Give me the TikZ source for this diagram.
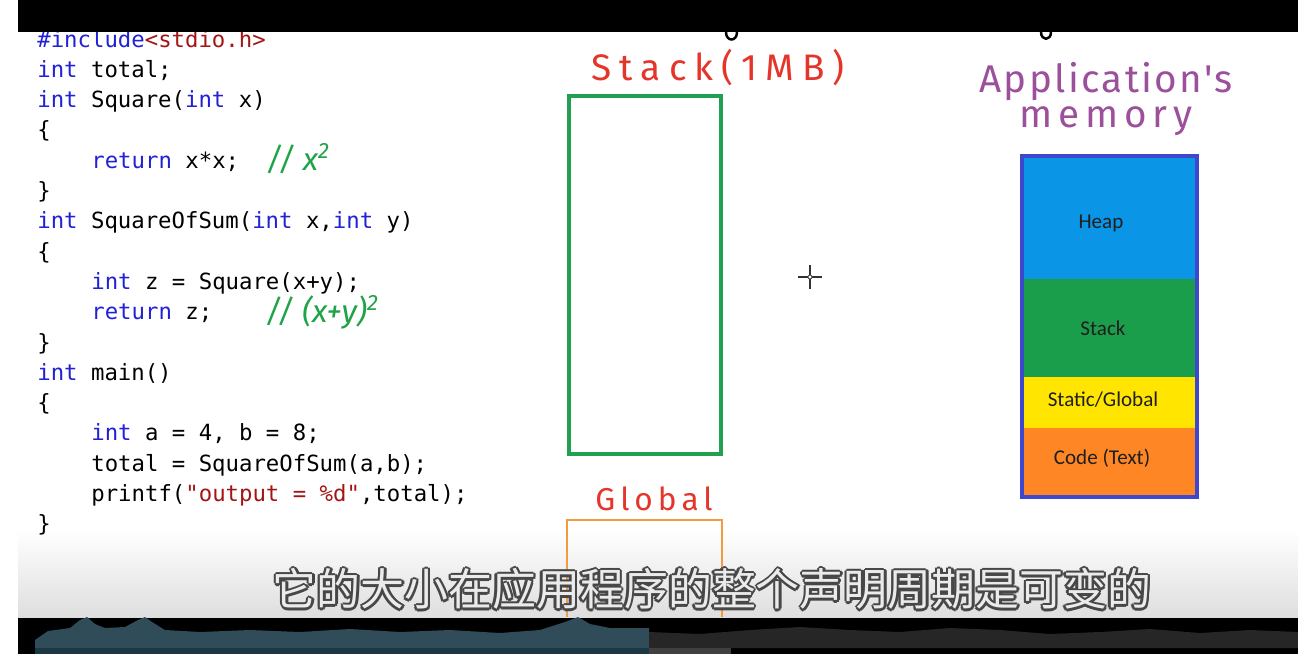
\documentclass[tikz,border=0pt]{standalone}
\usepackage{fontspec}
\newfontfamily\codefont{DejaVu Sans Mono}
\newfontfamily\handfont{Fira Sans}
\newfontfamily\labelfont{Carlito}
\newfontfamily\cjk{Noto Sans CJK SC}

\definecolor{kwblue}{HTML}{2121D6}
\definecolor{strred}{HTML}{A31515}
\definecolor{penred}{HTML}{E5352A}
\definecolor{pengreen}{HTML}{1FA347}
\definecolor{penpurple}{HTML}{9C509C}
\definecolor{boxgreen}{HTML}{22A052}
\definecolor{boxorange}{HTML}{F29B40}
\definecolor{memborder}{HTML}{3F47CC}
\definecolor{heapblue}{HTML}{0A95E6}
\definecolor{stackgreen}{HTML}{1B9E4B}
\definecolor{staticyellow}{HTML}{FFE500}
\definecolor{codeorange}{HTML}{FF8624}
\definecolor{wavefill}{HTML}{2F4C58}
\definecolor{wavedark}{HTML}{1C3744}

\newcommand{\kw}[1]{\textcolor{kwblue}{#1}}
\newcommand{\str}[1]{\textcolor{strred}{#1}}

\tikzset{
    codeline/.style={anchor=base west, inner sep=0pt, font=\codefont\fontsize{12.7}{15}\selectfont},
    handnote/.style={anchor=base, inner sep=0pt, text=pengreen, font=\handfont\itshape\fontsize{18}{20}\selectfont},
    segtext/.style={inner sep=0pt, text=black!88, font=\labelfont\fontsize{12}{14}\selectfont},
    subtext/.style={inner sep=0pt, font=\cjk\fontsize{25}{28}\selectfont},
}

\begin{document}
\begin{tikzpicture}[x=0.02cm, y=-0.02cm]
                        \useasboundingbox (0, 0) rectangle (1298, 654);
                        % Background and fading towards the subtitle:
                        \fill[white] (0, 0) rectangle (1298, 654);
                        \shade[top color=white, bottom color=black!13] (18, 530) rectangle (1298, 618);

                        % Source code:
                        \node[codeline](c1) at (37, 47){\kw{\#include}\str{<stdio.h>}};
                        \node[codeline](c2) at (37, 77.3){\kw{int} total;};
                        \node[codeline](c3) at (37, 107.6){\kw{int} Square(\kw{int} x)};
                        \node[codeline](c4) at (37, 137.9){\{};
                        \node[codeline](c5) at (91, 168.2){\kw{return} x*x;};
                        \node[codeline](c6) at (37, 198.5){\}};
                        \node[codeline](c7) at (37, 228.8){\kw{int} SquareOfSum(\kw{int} x,\kw{int} y)};
                        \node[codeline](c8) at (37, 259.1){\{};
                        \node[codeline](c9) at (91, 289.4){\kw{int} z = Square(x+y);};
                        \node[codeline](c10) at (91, 319.7){\kw{return} z;};
                        \node[codeline](c11) at (37, 350){\}};
                        \node[codeline](c12) at (37, 380.3){\kw{int} main()};
                        \node[codeline](c13) at (37, 410.6){\{};
                        \node[codeline](c14) at (91, 440.9){\kw{int} a = 4, b = 8;};
                        \node[codeline](c15) at (91, 471.2){total = SquareOfSum(a,b);};
                        \node[codeline](c16) at (91, 501.5){printf(\str{"output = \%d"},total);};
                        \node[codeline](c17) at (37, 531.8){\}};
                        \node[handnote](n1) at (298, 170){// x\textsuperscript{2}};
                        \node[handnote](n2) at (322, 322){// (x+y)\textsuperscript{2}};

                        % Stack (1 MB) and Global boxes:
                        \node[anchor=base, inner sep=0pt, text=penred, font=\handfont\addfontfeature{LetterSpace=22}\fontsize{21}{24}\selectfont](stacktitle) at (718, 80){Stack(1MB)};
                        \draw[boxgreen, line width=2pt] (569, 96) rectangle (721, 454);
                        \foreach \ty in {176, 248, 333, 393}{
                            \fill[boxgreen] (569, \ty) circle (1.6) (721, \ty) circle (1.6);
                        }
                        \node[anchor=base, inner sep=0pt, text=penred, font=\handfont\addfontfeature{LetterSpace=16}\fontsize{18}{20}\selectfont](globaltitle) at (654, 510){Global};
                        \draw[boxorange, line width=1.3pt] (567, 617) -- (567, 520) -- (722, 520) -- (722, 617);

                        % Cursor:
                        \draw[black!80, line width=0.6pt] (810, 265) -- (810, 289) (798, 277) -- (822, 277);
                        \fill[white] (810, 277) circle (2);
                        \draw[black!80, line width=0.4pt] (810, 277) circle (2);

                        % Application's memory:
                        \node[anchor=base, inner sep=0pt, text=penpurple, font=\handfont\addfontfeature{LetterSpace=6}\fontsize{22}{24}\selectfont](apptitle) at (1106, 92){Application's};
                        \node[anchor=base, inner sep=0pt, text=penpurple, font=\handfont\addfontfeature{LetterSpace=15}\fontsize{22}{24}\selectfont](memtitle) at (1106, 127){memory};
                        \fill[heapblue] (1022, 156) rectangle (1197, 279);
                        \fill[stackgreen] (1022, 279) rectangle (1197, 377);
                        \fill[staticyellow] (1022, 377) rectangle (1197, 428);
                        \fill[codeorange] (1022, 428) rectangle (1197, 497);
                        \draw[memborder, line width=2.6pt] (1022, 156) rectangle (1197, 497);
                        \node[segtext](heap) at (1101, 223){Heap};
                        \node[segtext](stk) at (1103, 328){Stack};
                        \node[segtext](stat) at (1103, 400){Static/Global};
                        \node[segtext](code) at (1102, 458){Code (Text)};

                        % Subtitle with outline:
                        \foreach \a in {0, 45, ..., 315}{
                            \node[subtext, text=black!72, shift={(\a:1.4pt)}](sub-\a) at (712, 589){它的大小在应用程序的整个声明周期是可变的};
                        }
                        \node[subtext, text=black!8](sub) at (712, 589){它的大小在应用程序的整个声明周期是可变的};

                        % Top and bottom bars:
                        \fill[black] (18, 0) rectangle (1298, 32);
                        \draw[black, line width=1.4pt] (726, 32) .. controls (726, 42) and (737, 42) .. (737, 32);
                        \draw[black, line width=1.4pt] (1041, 32) .. controls (1041, 41) and (1051, 41) .. (1051, 32);
                        \fill[black] (18, 618) rectangle (1298, 654);
                        \fill[wavefill] (35, 648) -- (35, 640) -- (48, 631) -- (70, 628) -- (80, 620) -- (87, 617) -- (95, 624) -- (105, 628)
                            -- (125, 627) -- (138, 620) -- (145, 617) -- (152, 622) -- (165, 630) -- (200, 632) -- (250, 630) -- (300, 632)
                            -- (350, 629) -- (400, 632) -- (450, 630) -- (500, 633) -- (540, 630) -- (565, 622) -- (578, 617) -- (590, 624)
                            -- (610, 628) -- (649, 628) -- (649, 648) -- cycle;
                        \fill[black!85] (649, 648) -- (649, 632) -- (700, 634) -- (750, 630) -- (800, 627) -- (850, 630) -- (900, 632)
                            -- (950, 628) -- (1000, 630) -- (1050, 634) -- (1100, 632) -- (1150, 629) -- (1200, 633) -- (1250, 630)
                            -- (1298, 632) -- (1298, 648) -- cycle;
                        \fill[wavedark] (35, 648) rectangle (649, 654);
                        \fill[black!75] (649, 648) rectangle (731, 654);
                    \end{tikzpicture}
\end{document}
